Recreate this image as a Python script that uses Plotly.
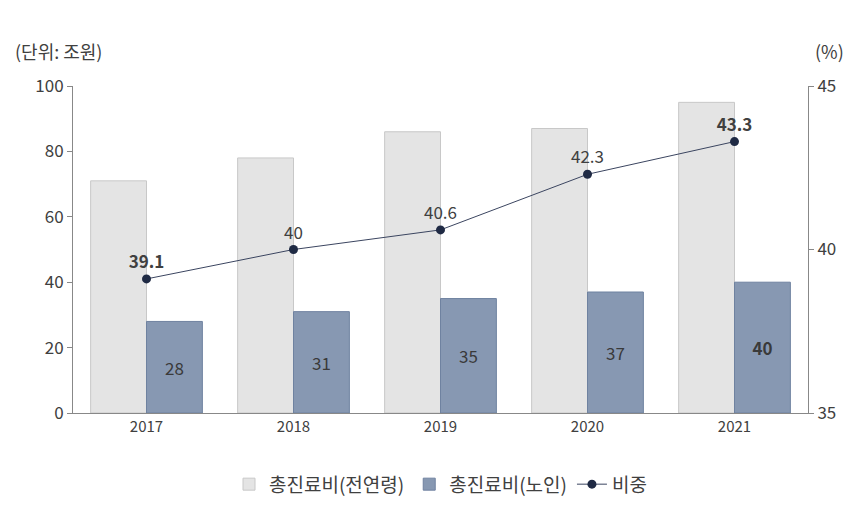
import plotly.graph_objects as go

years = ["2017", "2018", "2019", "2020", "2021"]
total = [71, 78, 86, 87, 95]
elderly = [28, 31, 35, 37, 40]
ratio = [39.1, 40, 40.6, 42.3, 43.3]

font = "Noto Sans CJK KR"

fig = go.Figure()
fig.add_trace(go.Bar(
    x=years, y=total, name="총진료비(전연령)",
    marker=dict(color="#e4e4e4", line=dict(color="#c8c8c8", width=1)),
))
fig.add_trace(go.Bar(
    x=years, y=elderly, name="총진료비(노인)",
    marker=dict(color="#8798b2", line=dict(color="#6f82a0", width=1)),
    text=["<b>40</b>" if i == 4 else str(v) for i, v in enumerate(elderly)],
    textposition="inside", insidetextanchor="middle",
    textfont=dict(size=17, color="#3a3a3a", family=font),
))
fig.add_trace(go.Scatter(
    x=years, y=ratio, name="비중", yaxis="y2", mode="lines+markers+text",
    line=dict(color="#3b4560", width=1),
    marker=dict(color="#1f2a44", size=9),
    text=["<b>39.1</b>", "40", "40.6", "42.3", "<b>43.3</b>"],
    textposition="top center",
    textfont=dict(size=17, color="#404040", family=font),
))

fig.update_layout(
    width=863, height=507,
    paper_bgcolor="white", plot_bgcolor="white",
    font=dict(family=font, color="#404040"),
    margin=dict(l=65, r=63, t=78, b=89),
    barmode="group", bargap=0.24, bargroupgap=0,
    xaxis=dict(showline=True, linecolor="#888", tickfont=dict(size=15)),
    yaxis=dict(range=[0, 100], dtick=20, showgrid=False, showline=True,
               linecolor="#888", ticks="outside", tickcolor="#888",
               tickfont=dict(size=17)),
    yaxis2=dict(range=[35, 45], dtick=5, overlaying="y", side="right",
                showgrid=False, showline=True, linecolor="#888",
                ticks="outside", tickcolor="#888", tickfont=dict(size=17)),
    legend=dict(orientation="h", x=0.5, xanchor="center", y=-0.16,
                yanchor="top", font=dict(size=19)),
    annotations=[
        dict(text="(단위: 조원)", x=0, y=1.0, xref="paper", yref="paper",
             xanchor="left", yanchor="bottom", xshift=-60, yshift=20,
             showarrow=False, font=dict(size=18)),
        dict(text="(%)", x=1, y=1.0, xref="paper", yref="paper",
             xanchor="left", yanchor="bottom", xshift=5, yshift=20,
             showarrow=False, font=dict(size=18)),
    ],
)

fig.write_html("out.html")
